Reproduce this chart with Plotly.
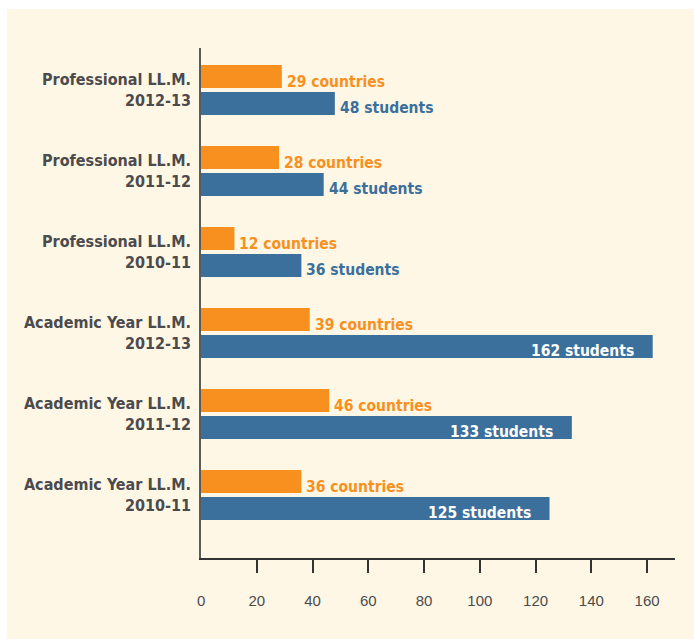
import plotly.graph_objects as go

categories = [
    "Academic Year LL.M.<br>2010-11",
    "Academic Year LL.M.<br>2011-12",
    "Academic Year LL.M.<br>2012-13",
    "Professional LL.M.<br>2010-11",
    "Professional LL.M.<br>2011-12",
    "Professional LL.M.<br>2012-13",
]
countries = [36, 46, 39, 12, 28, 29]
students = [125, 133, 162, 36, 44, 48]
x_tick_values = [20, 40, 60, 80, 100, 120, 140, 160]

ORANGE = "#F7901E"
BLUE = "#3B6F9C"
CREAM = "#FEF7E6"
GRAY = "#4B4B4D"
FONT = "DejaVu Sans Condensed, DejaVu Sans, sans-serif"
LIGHT = "Liberation Sans, Arial, sans-serif"

W, H = 694, 639
L, R, T, B = 201, 19, 48, 81
PW, PH = W - L - R, H - T - B

fig = go.Figure()
fig.add_trace(go.Bar(y=categories, x=students, orientation="h",
                     marker=dict(color=BLUE, line=dict(width=0)), name="students"))
fig.add_trace(go.Bar(y=categories, x=countries, orientation="h",
                     marker=dict(color=ORANGE, line=dict(width=0)), name="countries"))

annotations = []
for cat, c, s in zip(categories, countries, students):
    annotations.append(dict(x=c, y=cat, xref="x", yref="y", text=f"{c} countries",
                            showarrow=False, xanchor="left", yanchor="middle",
                            xshift=3, yshift=8,
                            font=dict(family=FONT, size=15.5, color=ORANGE, weight="bold")))
    inside = s >= 100
    annotations.append(dict(x=s, y=cat, xref="x", yref="y", text=f"{s} students",
                            showarrow=False,
                            xanchor="right" if inside else "left", yanchor="middle",
                            xshift=-17 if inside else 3, yshift=-18,
                            font=dict(family=FONT, size=15.5,
                                      color="white" if inside else BLUE, weight="bold")))
# zero label (axis starts at 0 without a tick mark)
annotations.append(dict(x=0, y=0, xref="x", yref="paper", text="0", showarrow=False,
                        xanchor="center", yanchor="top", yshift=-32,
                        font=dict(family=LIGHT, size=15, color=GRAY)))

fig.update_layout(
    width=W, height=H,
    margin=dict(l=L, r=R, t=T, b=B, pad=0),
    paper_bgcolor="white",
    plot_bgcolor="rgba(0,0,0,0)",
    barmode="group", bargap=0.333, bargroupgap=0.148,
    showlegend=False,
    annotations=annotations,
    shapes=[dict(type="rect", xref="paper", yref="paper",
                 x0=(7 - L) / PW, x1=(W + 5 - L) / PW,
                 y0=-(B + 5) / PH, y1=(H - B - 9) / PH,
                 fillcolor=CREAM, line=dict(width=0), layer="below")],
    xaxis=dict(range=[0, 170], showgrid=False, zeroline=False, automargin=False,
               showline=True, linecolor="#333333", linewidth=2,
               tickvals=x_tick_values, ticks="outside", ticklen=13, tickwidth=2,
               tickcolor="#333333", ticklabelstandoff=15,
               tickfont=dict(family=LIGHT, size=15, color=GRAY)),
    yaxis=dict(type="category", categoryarray=categories, range=[-0.778, 5.519],
               showgrid=False, zeroline=False, showline=True, automargin=False,
               linecolor="#5A5A5A", linewidth=1.5, ticks="", ticklabelstandoff=5,
               tickfont=dict(family=FONT, size=16, color=GRAY, weight="bold")),
)

fig.write_html("out.html", config={"displayModeBar": False},
               post_script="document.body.style.margin='0';")
